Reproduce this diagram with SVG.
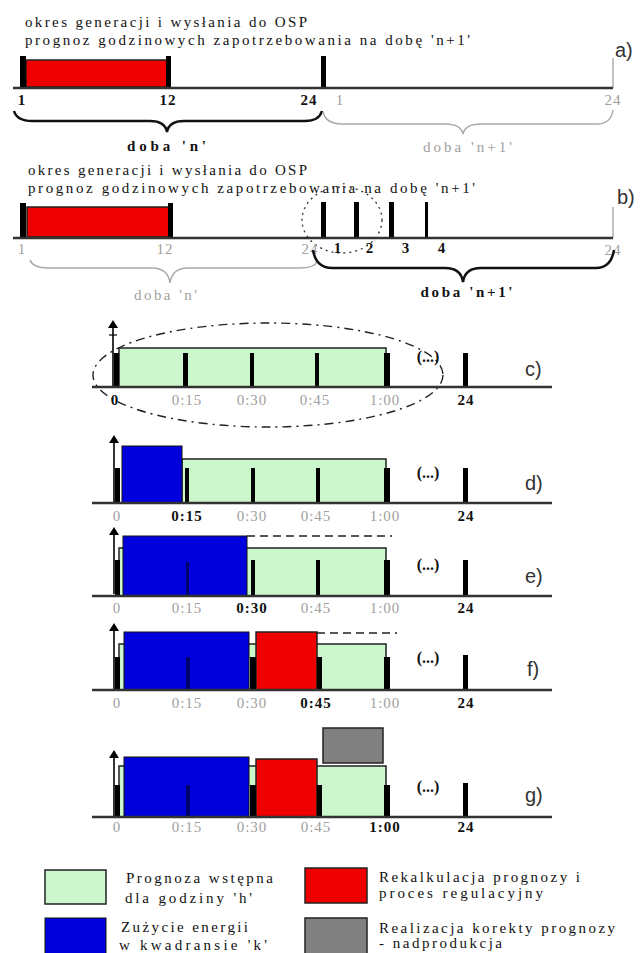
<svg xmlns="http://www.w3.org/2000/svg" width="643" height="953" viewBox="0 0 643 953">
<style>
.ax{stroke:#333;stroke-width:2.5;fill:none}
.thin{stroke:#999;stroke-width:1.2;fill:none}
.tk{fill:#000}
.nv{fill:#00006e}
.gn{fill:#ccf7cc;stroke:#222;stroke-width:1.5}
.bl{fill:#0000dc;stroke:#111;stroke-width:1}
.rd{fill:#ee0000;stroke:#222;stroke-width:1.5}
.gy{fill:#808080;stroke:#222;stroke-width:1.5}
.t{font-family:"Liberation Serif",serif;font-size:15px;fill:#111}
.lt{font-family:"Liberation Serif",serif;font-size:15px;fill:#111}
.lb{font-family:"Liberation Serif",serif;font-size:15px;font-weight:bold;fill:#111;text-anchor:middle;letter-spacing:1px}
.lg{font-family:"Liberation Serif",serif;font-size:15px;fill:#a0a0a0;text-anchor:middle;letter-spacing:1px}
.sec{font-family:"Liberation Sans",sans-serif;font-size:20px;fill:#333}
.dots{font-family:"Liberation Serif",serif;font-size:16px;font-weight:bold;fill:#111;text-anchor:middle}
.brk{stroke:#111;stroke-width:2.5;fill:none}
.brg{stroke:#aaa;stroke-width:1.5;fill:none}
.dash{stroke:#222;stroke-width:1.5;stroke-dasharray:8 5;fill:none}
</style>
<defs>
<g id="arrow"><polygon points="-5,8 5,8 0,0" fill="#000"/><line x1="0" y1="7" x2="0" y2="67" stroke="#000" stroke-width="1.6"/></g>
</defs>

<!-- a) -->
<g id="sec-a">
<text class="t" x="25" y="27" textLength="282" lengthAdjust="spacing">okres generacji i wysłania do OSP</text>
<text class="t" x="25" y="45" textLength="445" lengthAdjust="spacing">prognoz godzinowych zapotrzebowania na dobę 'n+1'</text>
<rect class="rd" x="26" y="60" width="142" height="27"/>
<rect class="tk" x="20" y="56" width="6" height="32"/>
<rect class="tk" x="166" y="56" width="5" height="32"/>
<rect class="tk" x="321" y="56" width="5" height="32"/>
<line class="thin" x1="613" y1="58" x2="613" y2="88"/>
<line class="ax" x1="13" y1="88" x2="613" y2="88"/>
<text class="lb" x="22" y="105">1</text>
<text class="lb" x="168" y="105">12</text>
<text class="lb" x="309" y="105">24</text>
<text class="lg" x="340" y="105">1</text>
<text class="lg" x="613" y="105">24</text>
<path class="brk" d="M14,111 Q17,121 32,121 L150,121 Q165,121 167,132 Q169,121 184,121 L305,121 Q319,121 322,111"/>
<text class="lb" x="167" y="151" textLength="80" lengthAdjust="spacing">doba 'n'</text>
<path class="brg" d="M323,112 Q326,124 342,124 L445,124 Q461,124 463,134 Q465,124 481,124 L597,124 Q611,124 613,110"/>
<text class="lg" x="468" y="152" textLength="90" lengthAdjust="spacing">doba 'n+1'</text>
<text class="sec" x="615" y="57">a)</text>
</g>

<!-- b) -->
<g id="sec-b">
<text class="t" x="28" y="175" textLength="279" lengthAdjust="spacing">okres generacji i wysłania do OSP</text>
<text class="t" x="28" y="193" textLength="447" lengthAdjust="spacing">prognoz godzinowych zapotrzebowania na dobę 'n+1'</text>
<rect class="rd" x="27" y="207" width="143" height="30"/>
<rect class="tk" x="20" y="203" width="6" height="35"/>
<rect class="tk" x="168" y="203" width="5" height="35"/>
<rect class="tk" x="321" y="202" width="5" height="36"/>
<rect class="tk" x="354" y="202" width="5" height="36"/>
<rect class="tk" x="389" y="202" width="5" height="36"/>
<rect class="tk" x="425" y="202" width="3" height="36"/>
<line class="thin" x1="613" y1="207" x2="613" y2="238"/>
<line class="ax" x1="13" y1="238" x2="613" y2="238"/>
<ellipse cx="342" cy="220" rx="40" ry="33" fill="none" stroke="#333" stroke-width="1.3" stroke-dasharray="2 4"/>
<text class="lg" x="22" y="254">1</text>
<text class="lg" x="165" y="254">12</text>
<text class="lg" x="310" y="254">24</text>
<text class="lb" x="338" y="253">1</text>
<text class="lb" x="370" y="253">2</text>
<text class="lb" x="406" y="253">3</text>
<text class="lb" x="442" y="253">4</text>
<text class="lg" x="613" y="255">24</text>
<path class="brg" d="M30,260 Q33,268 48,268 L152,268 Q168,268 170,283 Q172,268 188,268 L300,268 Q314,268 317,262"/>
<text class="lg" x="166" y="300" textLength="64" lengthAdjust="spacing">doba 'n'</text>
<path class="brk" d="M313,250 Q316,268 332,268 L445,268 Q461,268 463,282 Q465,268 481,268 L596,268 Q611,268 614,250"/>
<text class="lb" x="467" y="297" textLength="93" lengthAdjust="spacing">doba 'n+1'</text>
<text class="sec" x="617" y="204">b)</text>
</g>

<!-- c) -->
<g id="sec-c">
<ellipse cx="268" cy="375" rx="175" ry="52" fill="none" stroke="#222" stroke-width="1.4" stroke-dasharray="9 5 2 5"/>
<rect class="gn" x="119" y="348" width="267" height="39"/>
<rect class="tk" x="114" y="353" width="5" height="34"/>
<rect class="tk" x="183" y="353" width="5" height="34"/>
<rect class="tk" x="250" y="353" width="4" height="34"/>
<rect class="tk" x="315" y="353" width="4" height="34"/>
<rect class="tk" x="384" y="353" width="6" height="34"/>
<rect class="tk" x="463" y="353" width="5" height="34"/>
<use href="#arrow" x="113" y="320"/>
<line x1="109" y1="335" x2="117" y2="335" stroke="#000" stroke-width="1.2"/>
<line class="ax" x1="92" y1="387" x2="552" y2="387"/>
<text class="lb" x="115" y="405">0</text>
<text class="lg" x="187" y="405">0:15</text>
<text class="lg" x="252" y="405">0:30</text>
<text class="lg" x="315" y="405">0:45</text>
<text class="lg" x="385" y="405">1:00</text>
<text class="lb" x="466" y="405">24</text>
<text class="dots" x="428" y="362">(...)</text>
<text class="sec" x="525" y="376">c)</text>
</g>

<!-- d) -->
<g id="sec-d">
<rect class="gn" x="182" y="459" width="204" height="44"/>
<rect class="bl" x="122" y="446" width="60" height="57"/>
<rect class="tk" x="115" y="468" width="5" height="35"/>
<rect class="tk" x="185" y="468" width="4" height="35"/>
<rect class="tk" x="251" y="468" width="4" height="35"/>
<rect class="tk" x="316" y="468" width="4" height="35"/>
<rect class="tk" x="384" y="468" width="6" height="35"/>
<rect class="tk" x="463" y="468" width="5" height="35"/>
<use href="#arrow" x="114" y="435"/>
<line class="ax" x1="92" y1="503" x2="552" y2="503"/>
<text class="lg" x="117" y="521">0</text>
<text class="lb" x="187" y="521">0:15</text>
<text class="lg" x="252" y="521">0:30</text>
<text class="lg" x="316" y="521">0:45</text>
<text class="lg" x="385" y="521">1:00</text>
<text class="lb" x="466" y="521">24</text>
<text class="dots" x="428" y="478">(...)</text>
<text class="sec" x="525" y="490">d)</text>
</g>

<!-- e) -->
<g id="sec-e">
<rect class="gn" x="119" y="548" width="267" height="48"/>
<rect class="bl" x="123" y="536" width="124" height="60"/>
<line class="dash" x1="247" y1="536" x2="392" y2="536"/>
<rect class="tk" x="115" y="560" width="5" height="36"/>
<rect class="nv" x="186" y="562" width="3" height="34"/>
<rect class="tk" x="251" y="560" width="4" height="36"/>
<rect class="tk" x="316" y="560" width="4" height="36"/>
<rect class="tk" x="384" y="560" width="6" height="36"/>
<rect class="tk" x="463" y="560" width="5" height="36"/>
<use href="#arrow" x="114" y="527"/>
<line class="ax" x1="92" y1="596" x2="552" y2="596"/>
<text class="lg" x="117" y="613">0</text>
<text class="lg" x="187" y="613">0:15</text>
<text class="lb" x="252" y="613">0:30</text>
<text class="lg" x="316" y="613">0:45</text>
<text class="lg" x="385" y="613">1:00</text>
<text class="lb" x="466" y="613">24</text>
<text class="dots" x="428" y="570">(...)</text>
<text class="sec" x="525" y="583">e)</text>
</g>

<!-- f) -->
<g id="sec-f">
<rect class="gn" x="119" y="644" width="267" height="46"/>
<rect class="bl" x="124" y="632" width="125" height="58"/>
<rect class="rd" x="256" y="632" width="61" height="58"/>
<line class="dash" x1="317" y1="633" x2="397" y2="633"/>
<rect class="tk" x="115" y="657" width="5" height="33"/>
<rect class="nv" x="186" y="657" width="4" height="33"/>
<rect class="tk" x="250" y="657" width="6" height="33"/>
<rect class="tk" x="317" y="657" width="5" height="33"/>
<rect class="tk" x="384" y="657" width="6" height="33"/>
<rect class="tk" x="463" y="655" width="5" height="35"/>
<use href="#arrow" x="114" y="623"/>
<line class="ax" x1="92" y1="690" x2="552" y2="690"/>
<text class="lg" x="117" y="708">0</text>
<text class="lg" x="187" y="708">0:15</text>
<text class="lg" x="252" y="708">0:30</text>
<text class="lb" x="316" y="708">0:45</text>
<text class="lg" x="385" y="708">1:00</text>
<text class="lb" x="466" y="708">24</text>
<text class="dots" x="428" y="663">(...)</text>
<text class="sec" x="527" y="676">f)</text>
</g>

<!-- g) -->
<g id="sec-g">
<rect class="gy" x="323" y="728" width="60" height="35"/>
<rect class="gn" x="119" y="766" width="267" height="51"/>
<rect class="bl" x="124" y="757" width="125" height="60"/>
<rect class="rd" x="256" y="759" width="61" height="58"/>
<rect class="tk" x="115" y="785" width="5" height="32"/>
<rect class="nv" x="186" y="785" width="4" height="32"/>
<rect class="tk" x="250" y="785" width="6" height="32"/>
<rect class="tk" x="317" y="785" width="5" height="32"/>
<rect class="tk" x="384" y="785" width="6" height="32"/>
<rect class="tk" x="463" y="783" width="5" height="34"/>
<use href="#arrow" x="114" y="750"/>
<line class="ax" x1="92" y1="817" x2="552" y2="817"/>
<text class="lg" x="117" y="832">0</text>
<text class="lg" x="187" y="832">0:15</text>
<text class="lg" x="252" y="832">0:30</text>
<text class="lg" x="316" y="832">0:45</text>
<text class="lb" x="385" y="832">1:00</text>
<text class="lb" x="466" y="832">24</text>
<text class="dots" x="428" y="792">(...)</text>
<text class="sec" x="525" y="802">g)</text>
</g>

<!-- legend -->
<g id="legend-green">
<rect class="gn" x="45" y="870" width="61" height="34" stroke-width="2"/>
<text class="lt" x="126" y="883" textLength="147" lengthAdjust="spacing">Prognoza wstępna</text>
<text class="lt" x="125" y="903" textLength="127" lengthAdjust="spacing">dla godziny 'h'</text>
</g>
<g id="legend-blue">
<rect class="bl" x="45" y="918" width="61" height="37" stroke-width="2"/>
<text class="lt" x="121" y="932" textLength="127" lengthAdjust="spacing">Zużycie energii</text>
<text class="lt" x="119" y="950" textLength="148" lengthAdjust="spacing">w kwadransie 'k'</text>
</g>
<g id="legend-red">
<rect class="rd" x="305" y="868" width="62" height="35" stroke-width="2"/>
<text class="lt" x="379" y="882" textLength="201" lengthAdjust="spacing">Rekalkulacja prognozy i</text>
<text class="lt" x="379" y="898" textLength="164" lengthAdjust="spacing">proces regulacyjny</text>
</g>
<g id="legend-gray">
<rect class="gy" x="305" y="918" width="62" height="37" stroke-width="2"/>
<text class="lt" x="379" y="933" textLength="236" lengthAdjust="spacing">Realizacja korekty prognozy</text>
<text class="lt" x="379" y="948" textLength="123" lengthAdjust="spacing">- nadprodukcja</text>
</g>
</svg>
